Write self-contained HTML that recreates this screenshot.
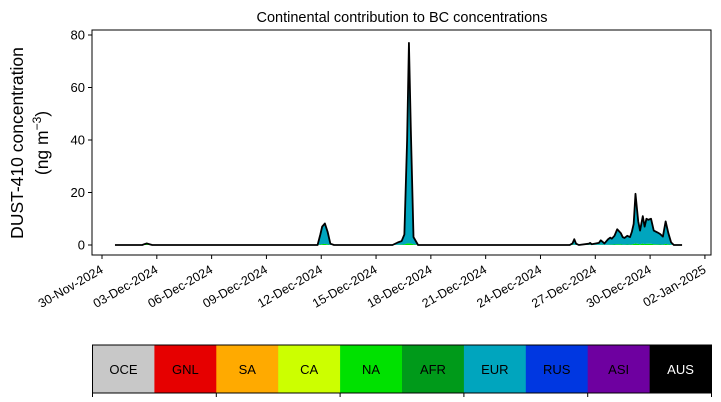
<!DOCTYPE html>
<html><head><meta charset="utf-8"><style>
body{margin:0;background:#fff;}
svg{display:block;font-family:"Liberation Sans","DejaVu Sans",sans-serif;}
</style></head><body>
<svg id="chart" width="721" height="402" viewBox="0 0 721 402" xmlns="http://www.w3.org/2000/svg">
<text x="402" y="22" font-size="14.5" text-anchor="middle">Continental contribution to BC concentrations</text>
<g>
<text x="23" y="143" font-size="17.5" text-anchor="middle" transform="rotate(-90 23 143)">DUST-410 concentration</text>
<text x="48" y="143" font-size="17.5" text-anchor="middle" transform="rotate(-90 48 143)">(ng m<tspan font-size="12" dy="-7">−3</tspan><tspan dy="7">)</tspan></text>
</g>
<g id="plot"></g>
<g id="cbar"></g>
</svg>
<script>
// days since 30-Nov-2024 00:00
const times  = [0.71,2.2,2.35,2.46,2.6,2.75,11.8,11.95,12.05,12.2,12.35,12.5,12.7,15.9,16.2,16.4,16.55,16.7,16.8,16.9,17.05,17.3,25.6,25.75,25.85,25.95,26.1,26.65,26.72,26.8,27.2,27.3,27.4,27.5,27.7,27.82,27.9,28.05,28.2,28.4,28.5,28.6,28.75,28.9,29.0,29.1,29.2,29.35,29.45,29.6,29.7,29.8,29.9,30.05,30.2,30.4,30.55,30.7,30.85,31.0,31.15,31.3,31.75];
const total  = [0,0,0.4,0.6,0.3,0,0,4,7,8.2,5,0.5,0,0,1,1.5,4,40,77,45,3,0,0,0.6,2.2,0.5,0,0.5,0.8,0.3,0.8,1.8,1.2,0.6,2.2,2.8,2.4,3.5,6,4.5,3,2.7,3.5,3,5,8,19.5,9,5.5,11,7,10,9.6,10,5.5,4.8,4.2,3.2,9,4.5,1,0,0];
const eurFrac= [0,0,0.1,0.1,0.1,0,0,0.95,0.95,0.95,0.95,0.9,0,0,0.9,0.9,0.95,0.95,0.95,0.95,0.9,0,0,0.8,0.95,0.9,0,0.8,0.9,0.8,0.9,0.95,0.9,0.9,0.95,0.95,0.95,0.95,0.95,0.95,0.95,0.95,0.95,0.95,0.95,0.95,0.97,0.95,0.95,0.95,0.95,0.95,0.95,0.95,0.95,0.95,0.95,0.95,0.95,0.95,0.9,0,0];
const yTicks = [0,20,40,60,80];
const xTickLabels = ["30-Nov-2024","03-Dec-2024","06-Dec-2024","09-Dec-2024","12-Dec-2024","15-Dec-2024","18-Dec-2024","21-Dec-2024","24-Dec-2024","27-Dec-2024","30-Dec-2024","02-Jan-2025"];
const xTickDays = [0,3,6,9,12,15,18,21,24,27,30,33];
const regions = ["OCE","GNL","SA","CA","NA","AFR","EUR","RUS","ASI","AUS"];
const regionColors = ["#c8c8c8","#e60000","#ffaa00","#ccff00","#00e100","#009a1a","#00a5be","#0037e1","#6e00a0","#000000"];

const NS="http://www.w3.org/2000/svg";
const X0=92,X1=711,Y0=30,Y1=255;
const xs=d=>102+d*18.27;
const ys=v=>245-v*2.625;
function mk(tag,attrs,parent){const e=document.createElementNS(NS,tag);for(const k in attrs)e.setAttribute(k,attrs[k]);parent.appendChild(e);return e;}
const plot=document.getElementById('plot');

// NA thin band
let naPts=times.map((t,i)=>xs(t)+","+ys(Math.min(total[i]*(1-eurFrac[i]),0.6)));
const na=mk('polygon',{points:xs(times[0])+","+ys(0)+" "+naPts.join(" ")+" "+xs(times[times.length-1])+","+ys(0),fill:"#00e100"},plot);


// EUR area stacked on top
let lower=times.map((t,i)=>Math.min(total[i]*(1-eurFrac[i]),0.6));
let up=times.map((t,i)=>xs(t)+","+ys(lower[i]+total[i]*eurFrac[i]));
let down=times.map((t,i)=>xs(t)+","+ys(lower[i])).reverse();
const eur=mk('polygon',{points:up.concat(down).join(" "),fill:"#00a5be"},plot);


// total line
const line=mk('polyline',{points:times.map((t,i)=>xs(t)+","+ys(total[i])).join(" "),fill:"none",stroke:"#000","stroke-width":1.8,"stroke-linejoin":"round"},plot);



// frame
const fr=mk('rect',{x:X0,y:Y0,width:X1-X0,height:Y1-Y0,fill:"none",stroke:"#000","stroke-width":1},plot);



yTicks.forEach(v=>{
  const g=mk('g',{},plot);
  
  
  mk('line',{x1:X0-4,x2:X0,y1:ys(v),y2:ys(v),stroke:"#000"},g);
  const t=mk('text',{x:X0-7,y:ys(v)+4.5,"font-size":13,"text-anchor":"end"},g);t.textContent=v;
});
xTickDays.forEach((d,i)=>{
  const x=xs(d);
  const g=mk('g',{},plot);
  
  
  mk('line',{x1:x,x2:x,y1:Y1,y2:Y1+4,stroke:"#000"},g);
  const t=mk('text',{x:x+2,y:Y1+17,"font-size":12.5,"text-anchor":"end",transform:`rotate(-30 ${x+2} ${Y1+17})`},g);t.textContent=xTickLabels[i];
});

// colorbar
const cb=document.getElementById('cbar');


const CX=92.5,CW=619,CY=345,CH=48,sw=CW/regions.length;
regions.forEach((r,i)=>{
  const g=mk('g',{},cb);
  
  
  mk('rect',{x:CX+i*sw,y:CY,width:sw+0.3,height:CH,fill:regionColors[i]},g);
  const t=mk('text',{x:CX+i*sw+sw/2,y:CY+29,"font-size":13,"text-anchor":"middle",fill:r==="AUS"?"#fff":"#000"},g);t.textContent=r;
});
mk('rect',{x:CX,y:CY,width:CW,height:CH,fill:"none",stroke:"#000"},cb);
for(let i=0;i<=regions.length;i+=2){mk('line',{x1:CX+i*sw,x2:CX+i*sw,y1:CY+CH,y2:CY+CH+4,stroke:"#000"},cb);}
</script>
</body></html>
